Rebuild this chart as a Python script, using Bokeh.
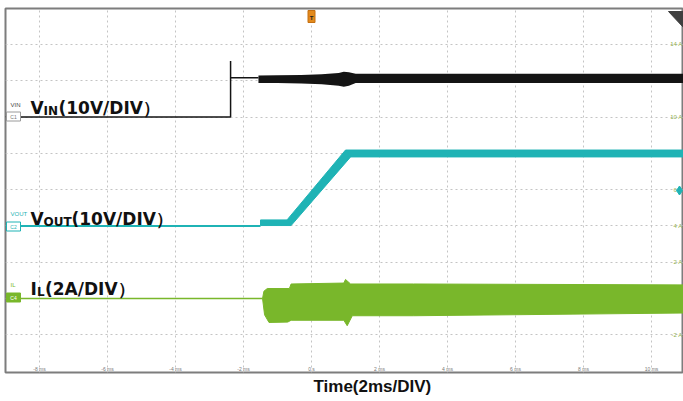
from bokeh.plotting import figure
from bokeh.models import Range1d, FixedTicker, Title
from bokeh.core.properties import value
from bokeh.embed import file_html
from bokeh.resources import INLINE

# ---------------- data ----------------
x_ticks = [-8, -6, -4, -2, 0, 2, 4, 6, 8, 10]                 # ms
x_tick_labels = ["-8 ms", "-6 ms", "-4 ms", "-2 ms", "0 s", "2 ms", "4 ms", "6 ms", "8 ms", "10 ms"]
y_ticks = [-2, 0, 2, 4, 6, 8, 10, 12, 14]                      # A (right scale)
y_tick_labels = ["-2 A", "0 A", "2 A", "4 A", "6 A", "8 A", "10 A", "12 A", "14 A"]

# VIN (volts, 10 V/div, zero at the 10 A grid line)
vin_line_t = [-9.0, -2.38, -2.38, -2.38, -1.56]
vin_line_v = [0.0, 0.0, 15.4, 10.8, 10.8]
vin_band_t = [-1.56, -1.0, -0.3, 0.3, 0.8, 0.95, 1.1, 1.3, 2.0, 4.0, 6.0, 8.0, 10.94]
vin_band_hi = [11.4, 11.5, 11.6, 11.8, 12.1, 12.5, 12.3, 11.9, 11.9, 11.9, 11.9, 11.9, 11.9]
vin_band_lo = [9.4, 9.4, 9.2, 9.0, 8.6, 8.3, 8.6, 9.4, 9.4, 9.4, 9.4, 9.4, 9.4]

# VOUT (volts, 10 V/div, zero at the 4 A grid line)
vout_line_t = [-9.0, -1.5]
vout_line_v = [0.0, 0.0]
vout_band_t = [-1.5, -0.72, 1.0, 10.94, 10.94, 1.15, -0.6, -1.5]
vout_band_v = [1.65, 1.65, 20.9, 20.9, 19.0, 19.0, 0.1, 0.1]

# IL (amps, 2 A/div, zero at the 0 A grid line)
il_line_t = [-9.0, -1.44]
il_line_a = [0.0, 0.0]
il_band_t = [-1.44, -1.40, -1.30, -0.65, -0.60, 0.95, 1.0, 1.15, 3.0, 10.94,
             10.94, 3.0, 1.2, 1.05, 0.95, -0.6, -0.7, -1.25, -1.38, -1.44]
il_band_a = [0.0, 0.4, 0.55, 0.55, 0.8, 0.85, 1.05, 0.8, 0.8, 0.75,
             -0.8, -0.95, -0.95, -1.5, -1.2, -1.2, -1.3, -1.32, -0.9, 0.0]

# ---------------- layout helpers ----------------
W, H = 683, 401
L, R, T, B = 5, 683, 8, 372
PX_PER_MS = 34.0
PX_PER_A = 18.15
X0 = -9.0
X1 = X0 + (R - L) / PX_PER_MS
Y1 = (298 - T) / PX_PER_A
Y0 = -(B - 298) / PX_PER_A


def px2x(px):
    return X0 + (px - L) / PX_PER_MS


def px2y(py):
    return (298 - py) / PX_PER_A


VIN_OFF, VOUT_OFF, SCALE_V = 10.0, 4.0, 0.2   # grid units per volt (10 V/div, 2 A/div)

BLACK = "#141414"
CYAN = "#1fb3b5"
GREEN = "#79b72b"
GRID = "#c4c4c4"

p = figure(width=W, height=H, output_backend="svg", toolbar_location=None,
           x_range=Range1d(X0, X1), y_range=Range1d(Y0, Y1),
           x_axis_location=None, y_axis_location=None,
           min_border_left=L, min_border_right=0, min_border_top=T,
           min_border_bottom=H - B)
p.background_fill_color = "white"
p.border_fill_color = "white"
p.outline_line_color = "#7d7d7d"
p.outline_line_width = 2

p.add_layout(Title(text="Time(2ms/DIV)", align="left", offset=308,
                   text_font="Liberation Sans", text_font_style="bold",
                   text_font_size="17px", text_color="#111111", standoff=4), "below")

p.xgrid.ticker = FixedTicker(ticks=x_ticks)
p.ygrid.ticker = FixedTicker(ticks=y_ticks)
for g in (p.xgrid, p.ygrid):
    g.grid_line_color = GRID
    g.grid_line_dash = "2 3"
    g.grid_line_width = 1

# tick labels inside the frame
p.text(x=x_ticks, y=[px2y(368)] * len(x_ticks), text=x_tick_labels,
       text_font=value("Liberation Sans"), text_font_size="5px", text_color="#777777",
       text_align="center", text_baseline="middle")
p.text(x=[px2x(682)] * len(y_ticks), y=y_ticks, text=y_tick_labels,
       text_font=value("Liberation Sans"), text_font_size="6px", text_color="#93b050",
       text_align="right", text_baseline="middle")

# ---------------- traces ----------------
p.line(vin_line_t, [VIN_OFF + SCALE_V * v for v in vin_line_v], line_color=BLACK, line_width=1.5)
p.varea(x=vin_band_t, y1=[VIN_OFF + SCALE_V * v for v in vin_band_lo],
        y2=[VIN_OFF + SCALE_V * v for v in vin_band_hi], fill_color=BLACK)

p.line(vout_line_t, [VOUT_OFF + SCALE_V * v for v in vout_line_v], line_color=CYAN, line_width=2)
p.patch(vout_band_t, [VOUT_OFF + SCALE_V * v for v in vout_band_v], fill_color=CYAN, line_color=CYAN, line_width=1)

p.line(il_line_t, il_line_a, line_color=GREEN, line_width=1.6)
p.patch(il_band_t, il_band_a, fill_color=GREEN, line_color=GREEN, line_width=1)

# ---------------- channel labels ----------------
BIG = value("DejaVu Sans")
lx = px2x(30)


def channel_label(ypx, main, sub, rest, main_w, sub_w):
    y = px2y(ypx)
    common = dict(text_font=BIG, text_font_style="bold", text_color="#111111",
                  text_baseline="alphabetic")
    p.text(x=[lx], y=[y], text=[main], text_font_size="17px", **common)
    p.text(x=[lx], y=[y], text=[sub], x_offset=main_w, y_offset=3, text_font_size="12px", **common)
    p.text(x=[lx], y=[y], text=[rest], x_offset=main_w + sub_w, text_font_size="17px", **common)


channel_label(107, "V", "IN", "(10V/DIV）", 13, 15)
channel_label(218, "V", "OUT", "(10V/DIV）", 13, 28)
channel_label(288, "I", "L", "(2A/DIV）", 6.5, 8)

# small channel names
p.text(x=[px2x(10)] * 3, y=[px2y(104), px2y(213), px2y(284)], text=["VIN", "VOUT", "IL"],
       text_font=value("Liberation Sans"), text_font_size="6px",
       text_color=["#444444", CYAN, GREEN], text_baseline="middle")

# channel tags at left edge
tag_y = [px2y(116), px2y(226), px2y(297)]
p.rect(x=[px2x(13)] * 3, y=tag_y, width=14, height=9, width_units="screen", height_units="screen",
       fill_color=["white", "white", GREEN], line_color=["#9a9a9a", CYAN, GREEN], line_width=1)
p.text(x=[px2x(13)] * 3, y=tag_y, text=["C1", "C2", "C4"], text_font=value("Liberation Sans"),
       text_font_size="5px", text_color=["#777777", CYAN, "white"],
       text_align="center", text_baseline="middle")

# trigger marker at t=0
p.rect(x=[0], y=[px2y(16)], width=7, height=12, width_units="screen", height_units="screen",
       fill_color="#e38a1c", line_color="#c46f10")
p.text(x=[0], y=[px2y(17)], text=["T"], text_font=value("Liberation Sans"), text_font_size="6px",
       text_color="#222222", text_align="center", text_baseline="middle", text_font_style="bold")

# top-right marker and cyan level marker
p.patch([px2x(668), px2x(683), px2x(683)], [px2y(11), px2y(11), px2y(27)], fill_color="#3f3f3f",
        line_color="#3f3f3f")
p.scatter(x=[px2x(679)], y=[px2y(190)], marker="diamond", size=9, fill_color=CYAN, line_color=CYAN)

open("out.html", "w").write(file_html(p, INLINE))
